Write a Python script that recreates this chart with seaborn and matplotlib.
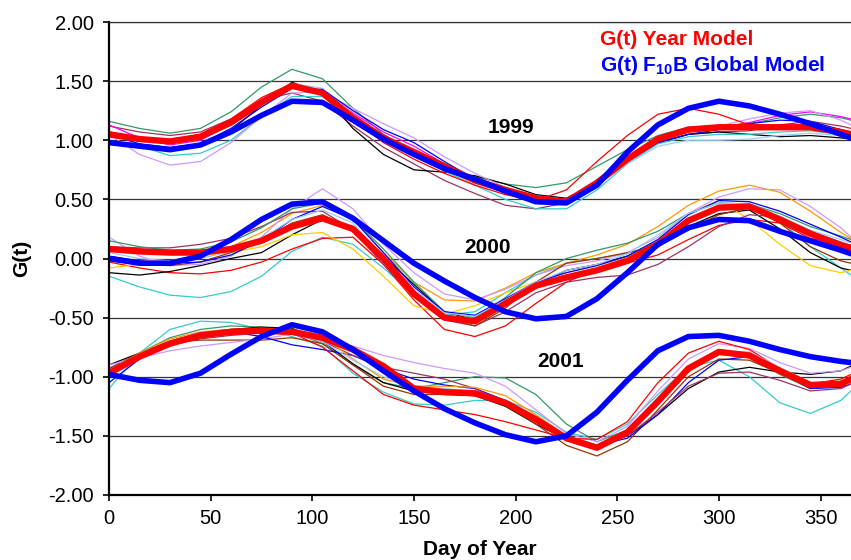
import matplotlib
matplotlib.use("Agg")
import matplotlib.pyplot as plt
from matplotlib.ticker import FormatStrFormatter
import seaborn as sns

# ---------------- data ----------------
DAYS = [0, 15, 30, 45, 60, 75, 90, 105, 120, 135, 150, 165, 180, 195,
        210, 225, 240, 255, 270, 285, 300, 315, 330, 345, 360, 365]

YEAR_LABELS = ["1999", "2000", "2001"]
X_TICKS = [0, 50, 100, 150, 200, 250, 300, 350]
Y_TICKS = [-2.0, -1.5, -1.0, -0.5, 0.0, 0.5, 1.0, 1.5, 2.0]

# thick curves
year_model_1999 = [1.05, 1.01, 0.99, 1.03, 1.15, 1.32, 1.46, 1.40, 1.19, 1.02, 0.90, 0.78, 0.66,
                   0.58, 0.51, 0.48, 0.64, 0.84, 1.01, 1.09, 1.11, 1.11, 1.11, 1.11, 1.07, 1.05]
global_model_1999 = [0.98, 0.95, 0.92, 0.96, 1.07, 1.21, 1.33, 1.32, 1.17, 1.01, 0.88, 0.76, 0.67,
                     0.57, 0.48, 0.47, 0.62, 0.90, 1.13, 1.27, 1.33, 1.29, 1.22, 1.14, 1.05, 1.02]
year_model_2000 = [0.08, 0.06, 0.05, 0.05, 0.08, 0.15, 0.27, 0.34, 0.25, 0.00, -0.30, -0.50, -0.53,
                   -0.38, -0.23, -0.16, -0.10, -0.02, 0.12, 0.32, 0.43, 0.44, 0.33, 0.21, 0.11, 0.09]
global_model_2000 = [0.00, -0.04, -0.04, 0.02, 0.16, 0.33, 0.46, 0.48, 0.34, 0.15, -0.04, -0.19, -0.33,
                     -0.45, -0.51, -0.49, -0.34, -0.12, 0.12, 0.26, 0.33, 0.32, 0.23, 0.15, 0.07, 0.04]
year_model_2001 = [-0.97, -0.83, -0.72, -0.65, -0.62, -0.61, -0.62, -0.67, -0.77, -0.91, -1.10, -1.13, -1.14,
                   -1.22, -1.36, -1.52, -1.60, -1.47, -1.21, -0.93, -0.79, -0.82, -0.95, -1.07, -1.06, -1.02]
global_model_2001 = [-0.98, -1.03, -1.05, -0.97, -0.81, -0.66, -0.56, -0.62, -0.77, -0.95, -1.12, -1.27, -1.39,
                     -1.49, -1.55, -1.50, -1.30, -1.03, -0.78, -0.66, -0.65, -0.70, -0.77, -0.83, -0.87, -0.88]

# thin curves, 1999
green_1999 = [1.16, 1.10, 1.06, 1.10, 1.24, 1.45, 1.60, 1.52, 1.27, 1.05, 0.90, 0.78, 0.69,
              0.63, 0.60, 0.64, 0.78, 0.92, 1.04, 1.11, 1.12, 1.14, 1.19, 1.22, 1.19, 1.17]
plum_1999 = [1.12, 1.07, 1.04, 1.07, 1.18, 1.34, 1.40, 1.33, 1.12, 0.94, 0.80, 0.66, 0.55,
             0.45, 0.42, 0.47, 0.62, 0.82, 0.98, 1.05, 1.07, 1.08, 1.13, 1.16, 1.12, 1.10]
magenta_1999 = [1.13, 1.02, 0.96, 1.00, 1.14, 1.32, 1.45, 1.42, 1.23, 1.07, 0.95, 0.80, 0.66,
                0.55, 0.48, 0.50, 0.66, 0.86, 1.03, 1.10, 1.11, 1.15, 1.21, 1.24, 1.20, 1.18]
black_1999 = [0.99, 0.95, 0.92, 0.95, 1.08, 1.30, 1.49, 1.40, 1.10, 0.88, 0.75, 0.73, 0.70,
              0.63, 0.54, 0.51, 0.64, 0.83, 0.98, 1.05, 1.07, 1.05, 1.03, 1.04, 1.02, 1.01]
turquoise_1999 = [1.08, 0.95, 0.87, 0.89, 1.00, 1.20, 1.37, 1.37, 1.20, 1.02, 0.87, 0.74, 0.62,
                  0.50, 0.42, 0.42, 0.58, 0.80, 0.97, 1.03, 1.05, 1.05, 1.07, 1.08, 1.05, 1.03]
lavender_1999 = [1.05, 0.88, 0.79, 0.82, 0.98, 1.20, 1.40, 1.41, 1.27, 1.14, 1.02, 0.86, 0.72,
                 0.60, 0.50, 0.48, 0.62, 0.82, 1.00, 1.08, 1.12, 1.18, 1.23, 1.25, 1.17, 1.13]
lightblue_1999 = [1.06, 1.00, 0.97, 1.01, 1.14, 1.33, 1.48, 1.44, 1.22, 1.03, 0.90, 0.80, 0.68,
                  0.57, 0.49, 0.48, 0.62, 0.80, 0.95, 1.00, 1.00, 1.01, 1.04, 1.06, 1.04, 1.02]
red_1999 = [1.07, 1.02, 1.00, 1.05, 1.18, 1.36, 1.48, 1.41, 1.18, 0.98, 0.84, 0.72, 0.62,
            0.54, 0.49, 0.58, 0.82, 1.04, 1.22, 1.27, 1.22, 1.13, 1.12, 1.12, 1.09, 1.07]
blue_1999 = [1.05, 0.97, 0.94, 0.97, 1.10, 1.28, 1.44, 1.43, 1.25, 1.09, 0.98, 0.82, 0.67,
             0.56, 0.49, 0.48, 0.62, 0.82, 0.98, 1.05, 1.09, 1.14, 1.17, 1.16, 1.09, 1.05]

# thin curves, 2000
turquoise_2000 = [-0.15, -0.24, -0.31, -0.33, -0.28, -0.15, 0.06, 0.18, 0.12, -0.08, -0.30, -0.48, -0.45,
                  -0.29, -0.14, -0.04, 0.00, 0.04, 0.13, 0.32, 0.45, 0.44, 0.32, 0.10, -0.08, -0.14]
red_2000 = [-0.03, -0.08, -0.12, -0.13, -0.10, -0.03, 0.08, 0.17, 0.18, -0.05, -0.35, -0.60, -0.66,
            -0.57, -0.38, -0.20, -0.09, -0.04, 0.03, 0.16, 0.28, 0.33, 0.30, 0.17, 0.12, 0.11]
black_2000 = [-0.12, -0.14, -0.11, -0.06, 0.00, 0.05, 0.20, 0.33, 0.27, 0.02, -0.22, -0.45, -0.52,
              -0.38, -0.22, -0.10, -0.05, 0.02, 0.14, 0.27, 0.38, 0.41, 0.25, 0.05, -0.08, -0.10]
gold_2000 = [-0.08, -0.05, -0.02, 0.02, 0.05, 0.10, 0.20, 0.22, 0.08, -0.15, -0.40, -0.47, -0.40,
             -0.29, -0.20, -0.12, -0.06, 0.01, 0.16, 0.38, 0.49, 0.33, 0.12, -0.06, -0.12, -0.10]
orange_2000 = [0.02, -0.02, -0.02, 0.03, 0.10, 0.22, 0.38, 0.45, 0.34, 0.05, -0.20, -0.35, -0.36,
               -0.25, -0.12, -0.04, 0.03, 0.12, 0.27, 0.45, 0.57, 0.62, 0.56, 0.40, 0.22, 0.17]
lavender_2000 = [0.18, 0.02, -0.06, -0.05, 0.02, 0.18, 0.42, 0.59, 0.42, 0.12, -0.12, -0.30, -0.35,
                 -0.26, -0.14, -0.06, -0.02, 0.05, 0.18, 0.38, 0.52, 0.59, 0.58, 0.44, 0.26, 0.18]
plum_2000 = [0.10, 0.09, 0.09, 0.12, 0.17, 0.27, 0.39, 0.40, 0.24, -0.05, -0.32, -0.52, -0.57,
             -0.45, -0.29, -0.20, -0.16, -0.14, -0.05, 0.10, 0.27, 0.37, 0.35, 0.23, 0.14, 0.11]
brown_2000 = [-0.02, -0.05, -0.06, -0.03, 0.05, 0.15, 0.30, 0.37, 0.25, -0.02, -0.28, -0.50, -0.57,
              -0.42, -0.20, -0.04, 0.00, 0.05, 0.10, 0.24, 0.37, 0.43, 0.30, 0.10, -0.02, -0.04]
green_2000 = [0.15, 0.10, 0.07, 0.08, 0.14, 0.26, 0.42, 0.47, 0.34, 0.08, -0.20, -0.45, -0.50,
              -0.33, -0.12, 0.00, 0.07, 0.13, 0.23, 0.38, 0.47, 0.46, 0.38, 0.27, 0.19, 0.16]
blue_2000 = [0.02, -0.02, -0.04, -0.03, 0.03, 0.15, 0.33, 0.44, 0.33, 0.05, -0.24, -0.45, -0.48,
             -0.34, -0.20, -0.12, -0.06, 0.02, 0.16, 0.37, 0.49, 0.48, 0.40, 0.29, 0.18, 0.14]
lightblue_2000 = [0.05, 0.00, -0.02, 0.00, 0.06, 0.17, 0.33, 0.41, 0.30, 0.02, -0.26, -0.46, -0.49,
                  -0.35, -0.20, -0.10, -0.05, 0.04, 0.20, 0.38, 0.47, 0.46, 0.36, 0.24, 0.16, 0.13]

# thin curves, 2001
turquoise_2001 = [-1.10, -0.80, -0.60, -0.53, -0.54, -0.60, -0.66, -0.74, -0.97, -1.13, -1.23, -1.24, -1.20,
                  -1.20, -1.30, -1.47, -1.53, -1.40, -1.15, -0.92, -0.86, -1.00, -1.22, -1.31, -1.20, -1.12]
green_2001 = [-0.95, -0.80, -0.67, -0.60, -0.57, -0.58, -0.62, -0.72, -0.90, -1.05, -1.10, -1.05, -1.00,
              -1.01, -1.15, -1.40, -1.55, -1.45, -1.18, -0.95, -0.80, -0.84, -0.98, -1.10, -1.07, -1.04]
black_2001 = [-0.90, -0.80, -0.70, -0.63, -0.60, -0.58, -0.59, -0.70, -0.89, -1.05, -1.12, -1.14, -1.16,
              -1.25, -1.40, -1.53, -1.58, -1.50, -1.32, -1.10, -0.96, -0.92, -0.96, -0.98, -0.95, -0.91]
brown_2001 = [-0.93, -0.80, -0.71, -0.69, -0.69, -0.69, -0.67, -0.72, -0.90, -1.08, -1.15, -1.15, -1.16,
              -1.24, -1.40, -1.58, -1.67, -1.55, -1.28, -1.00, -0.85, -0.86, -0.97, -1.08, -1.04, -1.00]
lavender_2001 = [-0.90, -0.84, -0.78, -0.74, -0.71, -0.68, -0.64, -0.66, -0.74, -0.82, -0.88, -0.93, -0.97,
                 -1.08, -1.28, -1.48, -1.55, -1.42, -1.12, -0.85, -0.72, -0.76, -0.88, -0.97, -0.95, -0.92]
blue_2001 = [-1.05, -0.85, -0.70, -0.63, -0.62, -0.66, -0.73, -0.77, -0.82, -0.93, -1.02, -1.07, -1.10,
             -1.20, -1.35, -1.50, -1.58, -1.52, -1.32, -1.05, -0.86, -0.83, -0.96, -1.10, -1.09, -1.06]
red_2001 = [-0.97, -0.82, -0.70, -0.63, -0.60, -0.59, -0.63, -0.75, -0.95, -1.15, -1.24, -1.28, -1.32,
            -1.38, -1.45, -1.52, -1.53, -1.38, -1.05, -0.80, -0.70, -0.77, -0.93, -1.06, -1.02, -0.98]
plum_2001 = [-0.93, -0.82, -0.73, -0.68, -0.65, -0.63, -0.64, -0.70, -0.82, -0.92, -0.97, -1.02, -1.10,
             -1.22, -1.38, -1.53, -1.60, -1.50, -1.30, -1.08, -0.97, -0.96, -1.03, -1.12, -1.10, -1.06]
orange_2001 = [-0.95, -0.80, -0.68, -0.62, -0.60, -0.60, -0.60, -0.66, -0.85, -1.02, -1.08, -1.08, -1.09,
               -1.16, -1.32, -1.50, -1.58, -1.48, -1.22, -0.96, -0.80, -0.80, -0.93, -1.06, -1.05, -1.01]
lightblue_2001 = [-0.96, -0.82, -0.70, -0.63, -0.61, -0.62, -0.64, -0.70, -0.86, -1.00, -1.08, -1.10, -1.12,
                  -1.20, -1.35, -1.50, -1.58, -1.48, -1.22, -0.95, -0.79, -0.79, -0.92, -1.05, -1.04, -1.00]

# ---------------- styling ----------------
C_RED, C_GREEN, C_BROWN, C_MAGENTA = "#FF0000", "#339966", "#993300", "#FF00FF"
C_BLACK, C_TURQ, C_LAV, C_BLUE = "#000000", "#33CCCC", "#CC99FF", "#0000FF"
C_LBLUE, C_ORANGE, C_GOLD, C_PLUM = "#99CCFF", "#FF9900", "#FFCC00", "#993366"

thin_series = [
    (green_1999, C_GREEN), (plum_1999, C_PLUM), (magenta_1999, C_MAGENTA), (black_1999, C_BLACK),
    (turquoise_1999, C_TURQ), (lavender_1999, C_LAV), (lightblue_1999, C_LBLUE), (red_1999, C_RED),
    (blue_1999, C_BLUE),
    (turquoise_2000, C_TURQ), (red_2000, C_RED), (black_2000, C_BLACK), (gold_2000, C_GOLD),
    (orange_2000, C_ORANGE), (lavender_2000, C_LAV), (plum_2000, C_PLUM), (brown_2000, C_BROWN),
    (green_2000, C_GREEN), (blue_2000, C_BLUE), (lightblue_2000, C_LBLUE),
    (turquoise_2001, C_TURQ), (green_2001, C_GREEN), (black_2001, C_BLACK), (brown_2001, C_BROWN),
    (lavender_2001, C_LAV), (blue_2001, C_BLUE), (red_2001, C_RED), (plum_2001, C_PLUM),
    (orange_2001, C_ORANGE), (lightblue_2001, C_LBLUE),
]

sns.set_theme(style="white")
plt.rcParams.update({
    "font.family": ["Liberation Sans", "DejaVu Sans"],
    "axes.unicode_minus": False,
    "mathtext.fontset": "custom",
    "mathtext.rm": "Liberation Sans",
    "mathtext.bf": "Liberation Sans:bold",
    "mathtext.it": "Liberation Sans:italic",
})

fig = plt.figure(figsize=(8.51, 5.60), dpi=100)
ax = fig.add_axes([109 / 851, 65 / 560, (851 - 109) / 851, (495 - 22) / 560])

for vals, col in thin_series:
    sns.lineplot(x=DAYS, y=vals, color=col, lw=0.9, ax=ax, estimator=None, sort=False,
                 solid_joinstyle="round")

for vals in (year_model_1999, year_model_2000, year_model_2001):
    sns.lineplot(x=DAYS, y=vals, color=C_RED, lw=4.6, ax=ax, estimator=None, sort=False,
                 solid_capstyle="round", solid_joinstyle="round")
for vals in (global_model_1999, global_model_2000, global_model_2001):
    sns.lineplot(x=DAYS, y=vals, color=C_BLUE, lw=4.0, ax=ax, estimator=None, sort=False,
                 solid_capstyle="round", solid_joinstyle="round")

ax.set_xlim(0, 365)
ax.set_ylim(-2.0, 2.0)
ax.set_xticks(X_TICKS)
ax.set_yticks(Y_TICKS)
ax.yaxis.set_major_formatter(FormatStrFormatter("%.2f"))
ax.yaxis.grid(True, color="#333333", lw=0.9)
ax.xaxis.grid(False)
ax.set_axisbelow(True)

for side in ("left", "bottom"):
    ax.spines[side].set_visible(True)
    ax.spines[side].set_color("black")
    ax.spines[side].set_linewidth(1.6)
ax.spines["right"].set_visible(False)
ax.spines["top"].set_visible(True)
ax.spines["top"].set_color("#333333")
ax.spines["top"].set_linewidth(0.9)

ax.tick_params(axis="both", which="major", direction="out", length=4, width=1.2,
               color="black", labelsize=14.5, labelcolor="black",
               bottom=True, left=True)
ax.tick_params(axis="x", pad=6)
ax.tick_params(axis="y", pad=7)

ax.set_xlabel("Day of Year", fontsize=15, fontweight="bold", color="black", labelpad=9)
ax.set_ylabel("G(t)", fontsize=15, fontweight="bold", color="black", labelpad=12)

# legend-like text
ax.text(241.5, 1.805, "G(t) Year Model", color=C_RED, fontsize=15, fontweight="bold",
        ha="left", va="baseline")
ax.text(241.5, 1.588, r"G(t) F$_\mathbf{10}$B Global Model", color=C_BLUE, fontsize=15,
        fontweight="bold", ha="left", va="baseline")

# year labels
for lab, (xp, yp) in zip(YEAR_LABELS, [(197.7, 1.104), (186.4, 0.097), (222.3, -0.875)]):
    ax.text(xp, yp, lab, fontsize=15, fontweight="bold", color="black", ha="center", va="center")

fig.savefig("out.png", dpi=100)
